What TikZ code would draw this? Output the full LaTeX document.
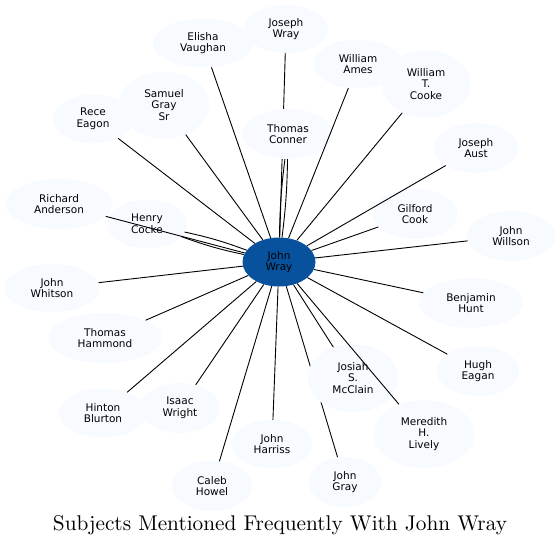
\documentclass[tikz,border=0pt]{standalone}
\usepackage{fontspec}
\newfontfamily\nodefont{DejaVu Sans}
\usetikzlibrary{shapes.geometric,backgrounds}
\definecolor{leaf}{RGB}{247,251,255}
\definecolor{hub}{RGB}{8,81,156}
\tikzset{
  person/.style={ellipse,fill=leaf,align=center,inner sep=0pt,
                 font=\nodefont\fontsize{10.5}{11.7}\selectfont},
  hubnode/.style={person,fill=hub},
  sz/.style 2 args={minimum width=#1,minimum height=#2},
  link/.style={line width=0.9pt,draw=black},
}
\begin{document}
\begin{tikzpicture}[x=1pt,y=-1pt]
  \useasboundingbox (0,0) rectangle (560,547);

  \node[hubnode,sz={73}{49}]    (jwray)    at (279,262) {John\\Wray};

  \node[person,sz={84}{48}]     (josephw)  at (286,29)  {Joseph\\Wray};
  \node[person,sz={100}{49}]    (elisha)   at (203,43)  {Elisha\\Vaughan};
  \node[person,sz={90}{49}]     (wames)    at (358,64)  {William\\Ames};
  \node[person,sz={88}{68}]     (wtcooke)  at (426,84)  {William\\T.\\Cooke};
  \node[person,sz={84}{50}]     (jaust)    at (476,148) {Joseph\\Aust};
  \node[person,sz={85}{50}]     (gilford)  at (415,214) {Gilford\\Cook};
  \node[person,sz={88}{50}]     (jwillson) at (511,236) {John\\Willson};
  \node[person,sz={104}{50}]    (bhunt)    at (471,303) {Benjamin\\Hunt};
  \node[person,sz={82}{50}]     (hugh)     at (478,371) {Hugh\\Eagan};
  \node[person,sz={101}{68}]    (meredith) at (424,434) {Meredith\\H.\\Lively};
  \node[person,sz={91}{68}]     (josiah)   at (353,378) {Josiah\\S.\\McClain};
  \node[person,sz={73}{50}]     (jgray)    at (345,482) {John\\Gray};
  \node[person,sz={81}{48}]     (jharriss) at (272,444) {John\\Harriss};
  \node[person,sz={80}{50}]     (caleb)    at (212,486) {Caleb\\Howel};
  \node[person,sz={80}{50}]     (isaac)    at (180,408) {Isaac\\Wright};
  \node[person,sz={88}{49}]     (hinton)   at (103,413) {Hinton\\Blurton};
  \node[person,sz={114}{50}]    (thammond) at (105,338) {Thomas\\Hammond};
  \node[person,sz={95}{49}]     (jwhitson) at (52,288)  {John\\Whitson};
  \node[person,sz={107}{50}]    (richard)  at (59,204)  {Richard\\Anderson};
  \node[person,sz={79}{49}]     (henry)    at (147,224) {Henry\\Cocke};
  \node[person,sz={80}{49}]     (rece)     at (93,119)  {Rece\\Eagon};
  \node[person,sz={90}{67}]     (samuel)   at (164,105) {Samuel\\Gray\\Sr};
  \node[person,sz={90}{50}]     (tconner)  at (288,134) {Thomas\\Conner};

  % edges hidden behind other nodes
  \begin{pgfonlayer}{background}
    \draw[link] (jwray) -- (josephw);
    \draw[link] (jwray) -- (jgray);
  \end{pgfonlayer}

  \foreach \who in {elisha,wames,wtcooke,jaust,gilford,jwillson,bhunt,hugh,
                    meredith,josiah,jharriss,caleb,isaac,hinton,thammond,
                    jwhitson,richard,rece,samuel}
    \draw[link] (jwray) -- (\who);

  % repeated mentions
  \draw[link] (jwray) to[bend left=3]  (tconner);
  \draw[link] (jwray) to[bend right=3] (tconner);
  \draw[link] (jwray) to[bend left=4]  (henry);
  \draw[link] (jwray) to[bend right=4] (henry);

  \node[inner sep=0pt] (title) at (280,525)
    {\scalebox{2.13}{\fontsize{10}{12}\selectfont Subjects Mentioned Frequently With John Wray}};
\end{tikzpicture}
\end{document}
